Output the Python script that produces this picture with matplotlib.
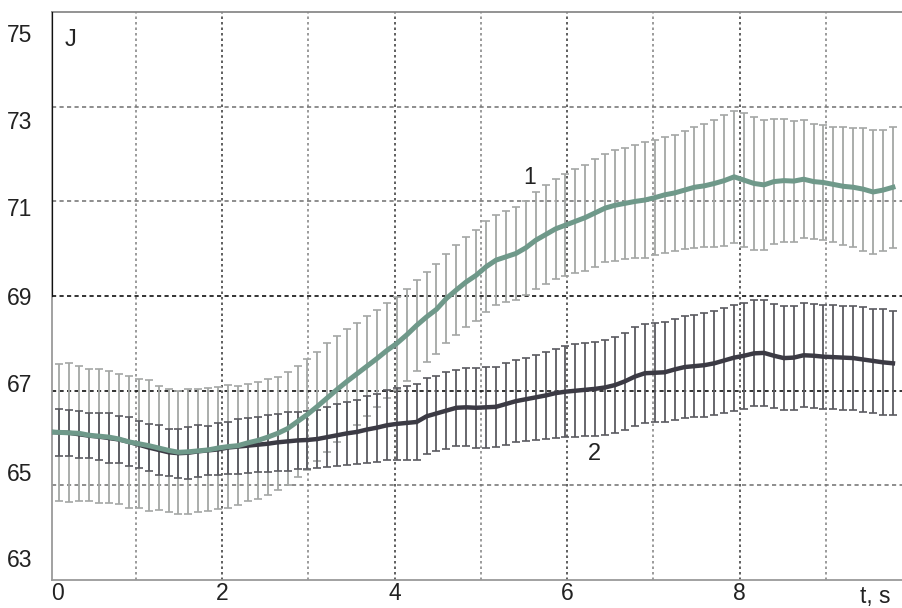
import numpy as np
import matplotlib.pyplot as plt

plt.rcParams['font.family'] = ['Liberation Sans', 'DejaVu Sans']

# sample times, s (one error bar every 0.115 s)
t = np.arange(86) * 0.115

# curve 1 (upper, green-grey)
j1 = [66.13, 66.12, 66.11, 66.10, 66.06, 66.04, 66.02, 65.98, 65.92, 65.88,
      65.84, 65.79, 65.74, 65.70, 65.71, 65.73, 65.75, 65.79, 65.82, 65.84,
      65.90, 65.95, 66.02, 66.10, 66.20, 66.35, 66.50, 66.67, 66.85, 67.03,
      67.20, 67.36, 67.52, 67.68, 67.85, 68.00, 68.18, 68.38, 68.56, 68.72,
      68.95, 69.13, 69.30, 69.44, 69.62, 69.76, 69.83, 69.90, 70.02, 70.18,
      70.30, 70.42, 70.50, 70.58, 70.66, 70.76, 70.86, 70.92, 70.96, 71.00,
      71.03, 71.08, 71.14, 71.18, 71.24, 71.30, 71.33, 71.38, 71.44, 71.52,
      71.45, 71.38, 71.35, 71.42, 71.44, 71.43, 71.47, 71.42, 71.40, 71.36,
      71.32, 71.30, 71.26, 71.20, 71.24, 71.30]
e1 = [1.45, 1.45, 1.47, 1.42, 1.40, 1.42, 1.40, 1.38, 1.40, 1.36,
      1.38, 1.32, 1.30, 1.30, 1.32, 1.30, 1.30, 1.28, 1.30, 1.26,
      1.24, 1.24, 1.22, 1.20, 1.20, 1.18, 1.18, 1.15, 1.15, 1.12,
      1.10, 1.08, 1.05, 1.02, 1.00, 0.98, 0.98, 0.96, 0.95, 0.95,
      0.94, 0.95, 0.95, 0.96, 0.96, 0.95, 0.96, 0.98, 1.00, 1.02,
      1.04, 1.05, 1.08, 1.10, 1.12, 1.14, 1.15, 1.17, 1.18, 1.20,
      1.22, 1.22, 1.22, 1.22, 1.25, 1.28, 1.30, 1.34, 1.38, 1.40,
      1.42, 1.40, 1.38, 1.32, 1.30, 1.28, 1.25, 1.22, 1.22, 1.22,
      1.25, 1.26, 1.30, 1.30, 1.28, 1.28]

# curve 2 (lower, dark)
j2 = [66.13, 66.12, 66.11, 66.08, 66.05, 66.03, 66.00, 65.97, 65.92, 65.86,
      65.80, 65.75, 65.70, 65.68, 65.69, 65.72, 65.74, 65.76, 65.80, 65.82,
      65.84, 65.86, 65.88, 65.91, 65.93, 65.95, 65.96, 65.98, 66.02, 66.06,
      66.10, 66.13, 66.18, 66.22, 66.27, 66.30, 66.32, 66.34, 66.46, 66.52,
      66.58, 66.64, 66.65, 66.64, 66.65, 66.66, 66.72, 66.78, 66.82, 66.86,
      66.90, 66.95, 66.98, 67.00, 67.02, 67.04, 67.07, 67.12, 67.20, 67.30,
      67.37, 67.38, 67.39, 67.45, 67.50, 67.52, 67.54, 67.58, 67.64, 67.70,
      67.74, 67.79, 67.80, 67.74, 67.69, 67.70, 67.75, 67.74, 67.72, 67.71,
      67.70, 67.69, 67.66, 67.63, 67.60, 67.58]
e2 = [0.50, 0.50, 0.48, 0.50, 0.48, 0.50, 0.52, 0.50, 0.52, 0.50,
      0.50, 0.52, 0.50, 0.52, 0.55, 0.55, 0.52, 0.55, 0.55, 0.58,
      0.58, 0.58, 0.60, 0.60, 0.62, 0.60, 0.62, 0.62, 0.64, 0.65,
      0.66, 0.68, 0.70, 0.72, 0.74, 0.76, 0.78, 0.80, 0.80, 0.80,
      0.82, 0.80, 0.82, 0.84, 0.85, 0.85, 0.86, 0.87, 0.88, 0.90,
      0.92, 0.94, 0.96, 0.98, 0.98, 1.00, 1.00, 1.02, 1.03, 1.04,
      1.05, 1.05, 1.06, 1.06, 1.08, 1.08, 1.10, 1.10, 1.10, 1.12,
      1.12, 1.12, 1.12, 1.10, 1.10, 1.10, 1.10, 1.10, 1.10, 1.10,
      1.10, 1.10, 1.10, 1.10, 1.12, 1.10]

y_ticks = [75, 73, 71, 69, 67, 65, 63]
# label positions as laid out on the original (slightly off the grid)
y_label_pos = [74.56, 72.72, 70.88, 69.0, 67.16, 65.28, 63.46]
x_ticks = [0, 2, 4, 6, 8]

fig = plt.figure(figsize=(9.02, 6.08), dpi=100)
ax = fig.add_axes([0.0577, 0.046, 0.9423, 0.934])
ax.set_xlim(0.03, 9.88)
ax.set_ylim(63, 75)

# grid
for gx in range(1, 10):
    c = '#444444' if gx % 2 == 0 else '#8a8a8a'
    ax.axvline(gx, color=c, lw=1.2, ls=(0, (1.5, 1.8)), zorder=1)
for gy in [65, 67, 69, 71, 73]:
    c = '#111111' if gy in (67, 69) else '#7a7a7a'
    ax.axhline(gy, color=c, lw=1.2, ls=(0, (2.5, 2.0)), zorder=1)

# error bars
ax.errorbar(t, j1, yerr=e1, fmt='none', ecolor='#a4a7a5', elinewidth=1.3,
            capsize=3, capthick=1.2, errorevery=(1, 1), zorder=2)
ax.errorbar(t, j2, yerr=e2, fmt='none', ecolor='#5a5a60', elinewidth=1.3,
            capsize=3, capthick=1.2, errorevery=(1, 1), zorder=3)

# mean curves
ax.plot(t, j2, color='#3b3a44', lw=3.2, zorder=4)
ax.plot(t, j1, color='#6f998a', lw=3.6, zorder=5)

ax.text(5.56, 71.51, '1', fontsize=16.5, ha='center', va='center', color='#222222')
ax.text(6.32, 65.66, '2', fontsize=17, ha='center', va='center', color='#222222')
ax.text(0.24, 74.41, 'J', fontsize=17, ha='center', va='center', color='#222222')
ax.text(9.57, 62.66, 't, s', fontsize=16.5, ha='center', va='center',
        color='#222222', clip_on=False)

ax.set_xticks([0.09] + x_ticks[1:])
ax.set_xticklabels([str(v) for v in x_ticks])
ax.set_yticks(y_label_pos)
ax.set_yticklabels([str(v) for v in y_ticks])
ax.tick_params(length=0, labelsize=16.5, colors='#222222')
ax.tick_params(axis='x', pad=1.5)
ax.tick_params(axis='y', pad=14)

ax.spines['right'].set_visible(False)
ax.spines['top'].set_color('#8a8a8a')
ax.spines['bottom'].set_color('#9a9a9a')
ax.spines['left'].set_color('#9a9a9a')
for s in ['top', 'bottom', 'left']:
    ax.spines[s].set_linewidth(1.3)
# upper part of the left frame is black on the original
ax.axvline(0.03, ymin=0.5, ymax=1.0, color='#111111', lw=1.6, zorder=6)

fig.savefig('out.png', dpi=100)
